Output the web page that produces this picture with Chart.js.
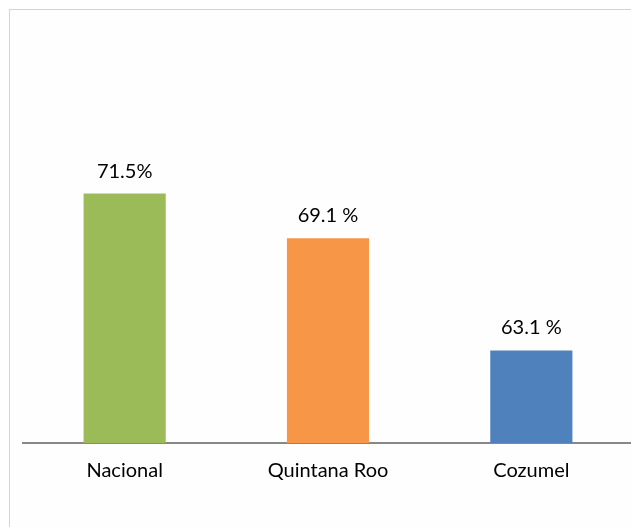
<!DOCTYPE html>
<html>
<head>
<meta charset="utf-8">
<script src="https://cdn.jsdelivr.net/npm/chart.js@4.4.1/dist/chart.umd.min.js"></script>
<style>
  html, body { margin:0; padding:0; background:#ffffff; overflow:hidden; width:631px; height:527px; }
  #frame { position:absolute; left:9px; top:9px; width:700px; height:600px; border:1px solid #d4d4d4; background:#fefefe; box-sizing:border-box; }
  #wrap { position:absolute; left:0; top:0; width:640px; height:527px; }
</style>
</head>
<body>
<div id="frame"></div>
<div id="wrap"><canvas id="c" width="640" height="527"></canvas></div>
<script>
const categories = ["Nacional", "Quintana Roo", "Cozumel"];
const values = [71.5, 69.1, 63.1];
const valueLabels = ["71.5%", "69.1 %", "63.1 %"];
const barColors = ["#9BBB59", "#F79646", "#4F81BD"];

const FONT = "Lato, 'Open Sans', sans-serif";

const labelPlugin = {
  id: 'valueLabels',
  afterDatasetsDraw(chart) {
    const ctx = chart.ctx;
    const meta = chart.getDatasetMeta(0);
    ctx.save();
    ctx.font = "20px " + FONT;
    ctx.fillStyle = "#000000";
    ctx.textAlign = "center";
    ctx.textBaseline = "alphabetic";
    meta.data.forEach((bar, i) => {
      ctx.fillText(valueLabels[i], bar.x, bar.y - 16);
    });
    ctx.restore();
  }
};

new Chart(document.getElementById('c'), {
  type: 'bar',
  data: {
    labels: categories,
    datasets: [{
      data: values,
      backgroundColor: barColors,
      borderWidth: 0,
      barPercentage: 0.404,
      categoryPercentage: 1.0
    }]
  },
  options: {
    responsive: false,
    animation: false,
    devicePixelRatio: 1,
    layout: { padding: { left: 23, right: 7, top: 30, bottom: 28 } },
    plugins: { legend: { display: false }, tooltip: { enabled: false } },
    scales: {
      y: {
        display: false,
        min: 58.15,
        max: 80.25
      },
      x: {
        grid: { display: false, drawTicks: false },
        border: { display: true, color: "#878787", width: 2 },
        ticks: { color: "#000000", font: { family: FONT, size: 20 }, padding: 16 }
      }
    }
  },
  plugins: [labelPlugin]
});
</script>
</body>
</html>
